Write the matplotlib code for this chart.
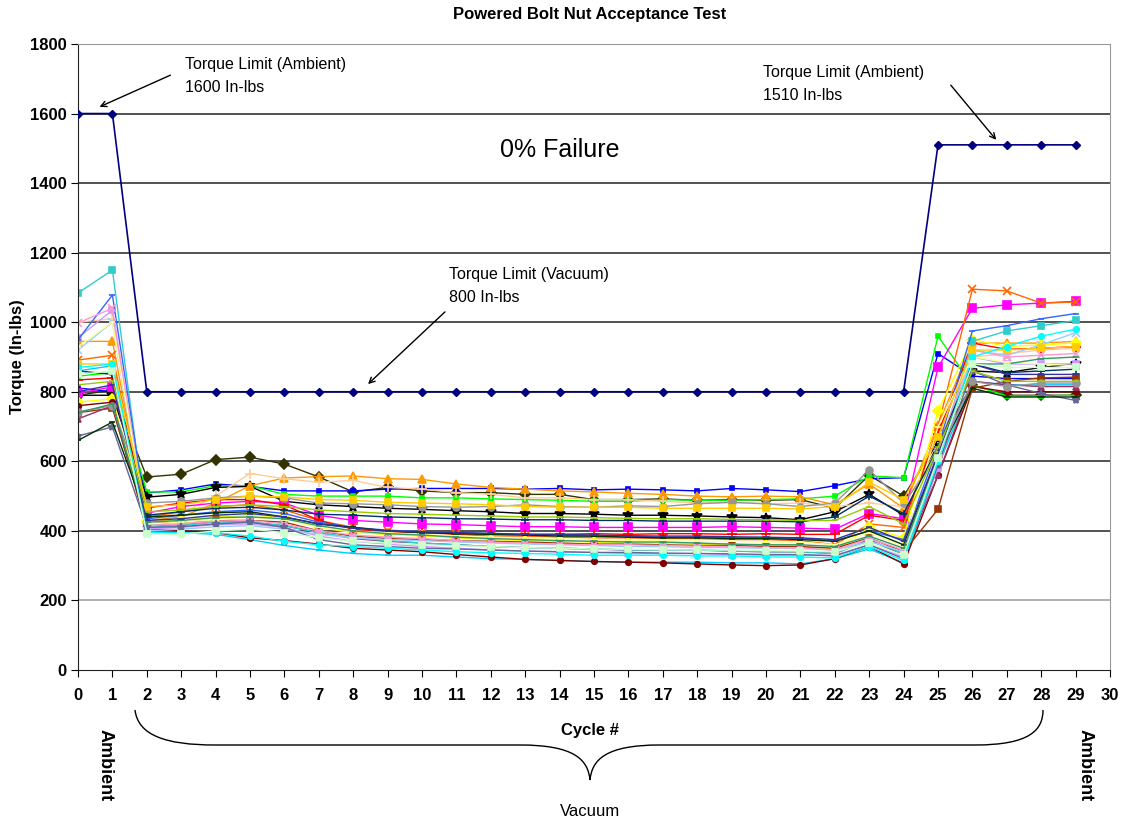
import numpy as np
import matplotlib
matplotlib.use("Agg")
import matplotlib.pyplot as plt
from matplotlib.path import Path
from matplotlib.patches import PathPatch

plt.rcParams['font.family'] = ['Liberation Sans Narrow', 'Liberation Sans', 'DejaVu Sans']

W, H = 1127, 827

cycles = list(range(30))
x_ticks = list(range(31))
y_ticks = [0, 200, 400, 600, 800, 1000, 1200, 1400, 1600, 1800]

# torque limit (ambient 1600 / vacuum 800 / ambient 1510)
limit = [1600, 1600, 800, 800, 800, 800, 800, 800, 800, 800, 800, 800, 800, 800, 800,
         800, 800, 800, 800, 800, 800, 800, 800, 800, 800, 1510, 1510, 1510, 1510, 1510]

# measured torque per nut, cycles 0..29
nut_01 = [790, 805, 555, 563, 605, 612, 592, 555, 512, 525, 515, 510, 510, 505, 505, 490, 490, 492, 488, 490, 488, 490, 465, 560, 500, 655, 820, 790, 790, 790]
nut_02 = [811, 800, 509, 518, 535, 528, 515, 515, 515, 520, 522, 522, 522, 520, 522, 518, 520, 518, 515, 522, 518, 513, 530, 550, 553, 910, 845, 838, 838, 838]
nut_03 = [845, 855, 512, 512, 530, 530, 505, 500, 500, 500, 495, 495, 492, 490, 488, 485, 485, 490, 488, 488, 490, 492, 500, 558, 553, 960, 820, 788, 788, 790]
nut_04 = [790, 790, 497, 505, 525, 528, 485, 475, 470, 465, 462, 458, 455, 450, 450, 448, 445, 445, 443, 440, 438, 432, 455, 505, 445, 650, 860, 855, 870, 880]
nut_05 = [945, 945, 430, 440, 480, 530, 552, 556, 558, 550, 548, 535, 525, 520, 515, 512, 508, 505, 500, 498, 500, 498, 475, 535, 465, 705, 940, 940, 940, 945]
nut_06 = [1000, 1010, 440, 450, 500, 565, 550, 540, 545, 525, 520, 510, 505, 495, 495, 490, 490, 485, 480, 482, 478, 480, 470, 480, 470, 640, 900, 910, 920, 925]
nut_07 = [796, 814, 451, 470, 480, 485, 480, 445, 430, 425, 420, 418, 415, 412, 412, 410, 410, 410, 410, 412, 410, 408, 405, 450, 435, 870, 1040, 1050, 1055, 1060]
nut_08 = [891, 905, 440, 455, 470, 475, 460, 430, 410, 400, 395, 390, 385, 385, 382, 380, 380, 378, 378, 375, 375, 372, 360, 420, 410, 700, 1095, 1090, 1055, 1058]
nut_09 = [834, 840, 466, 480, 490, 490, 475, 430, 405, 395, 395, 392, 390, 390, 390, 392, 390, 392, 392, 390, 392, 390, 390, 445, 430, 680, 940, 922, 925, 930]
nut_10 = [770, 780, 428, 430, 440, 445, 440, 410, 395, 390, 385, 380, 375, 372, 370, 368, 365, 365, 362, 360, 358, 355, 345, 410, 380, 745, 950, 930, 935, 940]
nut_11 = [860, 875, 397, 395, 390, 375, 358, 345, 335, 330, 330, 325, 320, 318, 315, 312, 310, 310, 310, 308, 308, 305, 320, 348, 308, 585, 830, 820, 820, 820]
nut_12 = [760, 770, 405, 400, 395, 380, 372, 362, 350, 345, 340, 332, 325, 318, 315, 312, 310, 308, 305, 302, 300, 302, 320, 355, 305, 560, 815, 800, 800, 800]
nut_13 = [740, 753, 420, 425, 430, 430, 425, 400, 385, 378, 375, 372, 370, 368, 365, 362, 362, 360, 358, 358, 355, 355, 350, 380, 340, 462, 810, 830, 840, 842]
nut_14 = [722, 760, 415, 418, 428, 425, 415, 395, 378, 370, 365, 360, 355, 352, 350, 348, 345, 345, 345, 342, 340, 340, 335, 375, 330, 560, 830, 820, 815, 815]
nut_15 = [955, 1035, 405, 410, 418, 420, 410, 385, 370, 362, 355, 350, 345, 342, 340, 338, 335, 335, 335, 332, 330, 330, 330, 360, 325, 580, 900, 880, 880, 880]
nut_16 = [1084, 1150, 410, 415, 425, 425, 415, 395, 380, 372, 365, 360, 355, 352, 350, 348, 345, 345, 345, 342, 340, 340, 335, 372, 335, 610, 945, 975, 990, 1005]
nut_17 = [950, 1078, 435, 445, 455, 460, 450, 425, 410, 402, 398, 395, 392, 390, 388, 385, 385, 382, 382, 380, 380, 378, 372, 400, 375, 640, 975, 990, 1010, 1025]
nut_18 = [920, 1000, 400, 405, 412, 415, 405, 390, 380, 375, 372, 368, 365, 362, 360, 358, 355, 355, 352, 352, 350, 350, 345, 370, 340, 620, 920, 905, 935, 970]
nut_19 = [998, 1040, 415, 420, 428, 430, 420, 400, 388, 382, 378, 372, 368, 365, 362, 360, 360, 358, 356, 355, 352, 350, 345, 378, 345, 630, 920, 900, 905, 910]
nut_20 = [930, 1000, 420, 425, 432, 440, 432, 410, 400, 395, 390, 385, 382, 380, 378, 375, 372, 372, 370, 370, 368, 368, 360, 395, 355, 700, 900, 885, 880, 875]
nut_21 = [673, 699, 410, 412, 420, 425, 410, 375, 360, 355, 350, 348, 345, 342, 340, 338, 338, 336, 335, 334, 332, 332, 328, 360, 320, 590, 860, 820, 795, 775]
nut_22 = [660, 713, 440, 445, 452, 455, 440, 420, 410, 400, 395, 392, 390, 388, 385, 385, 382, 380, 380, 378, 378, 375, 370, 400, 360, 620, 810, 785, 785, 785]
nut_23 = [742, 760, 480, 485, 495, 500, 495, 480, 478, 475, 470, 468, 470, 475, 470, 468, 472, 470, 478, 482, 478, 470, 480, 575, 480, 615, 830, 815, 825, 825]
nut_24 = [860, 850, 445, 455, 465, 468, 460, 448, 445, 440, 438, 435, 434, 432, 432, 430, 430, 428, 428, 428, 428, 426, 440, 500, 450, 640, 880, 855, 860, 865]
nut_25 = [740, 765, 425, 430, 438, 440, 435, 415, 400, 392, 388, 382, 378, 375, 372, 370, 368, 368, 365, 362, 360, 360, 355, 385, 350, 610, 880, 880, 895, 900]
nut_26 = [820, 830, 455, 460, 470, 475, 470, 460, 455, 450, 448, 445, 443, 440, 440, 438, 436, 435, 435, 433, 432, 430, 430, 470, 420, 640, 860, 830, 830, 830]
nut_27 = [880, 880, 470, 475, 490, 500, 498, 490, 488, 482, 480, 478, 475, 470, 468, 468, 468, 465, 465, 465, 465, 463, 470, 540, 490, 670, 920, 920, 925, 930]
nut_28 = [800, 820, 430, 435, 445, 450, 440, 420, 408, 400, 397, 395, 393, 390, 390, 388, 386, 385, 385, 383, 382, 380, 375, 410, 370, 620, 880, 850, 850, 850]
nut_29 = [870, 880, 395, 393, 395, 385, 370, 360, 355, 350, 345, 340, 337, 335, 333, 330, 330, 330, 328, 328, 325, 325, 322, 355, 315, 600, 900, 930, 960, 980]
nut_30 = [850, 860, 392, 390, 400, 405, 395, 380, 370, 365, 360, 357, 355, 352, 350, 348, 347, 346, 345, 345, 343, 342, 340, 365, 330, 610, 880, 870, 870, 870]

nuts = [nut_01, nut_02, nut_03, nut_04, nut_05, nut_06, nut_07, nut_08, nut_09, nut_10,
        nut_11, nut_12, nut_13, nut_14, nut_15, nut_16, nut_17, nut_18, nut_19, nut_20,
        nut_21, nut_22, nut_23, nut_24, nut_25, nut_26, nut_27, nut_28, nut_29, nut_30]

# excel-ish colours / markers, one per nut
colors = ['#333300', '#0000FF', '#00FF00', '#000000', '#FF9900', '#FFCC99', '#FF00FF', '#FF6600',
          '#FF0000', '#FFFF00', '#00CCFF', '#800000', '#993300', '#993366', '#CC99FF', '#33CCCC',
          '#3366FF', '#99CCFF', '#FF99CC', '#FFFF99', '#666699', '#003300', '#969696', '#003366',
          '#339966', '#99CC00', '#FFCC00', '#333399', '#00FFFF', '#CCFFCC']
markers = ['D', 's', 's', '*', '^', '+', 's', 'x', '+', 'D', '_', 'o', 's', '^', 's', 's',
           '_', 'x', 'x', '_', '*', '_', 'o', '+', '_', '_', 's', '_', 'o', 's']
msizes = [5, 3, 3, 7, 6, 7, 6, 6, 7, 5, 5, 4, 5, 5, 5, 4, 4, 6, 6, 5, 6, 5, 5, 6, 5, 5, 5, 5, 4, 5]

fig = plt.figure(figsize=(W / 100, H / 100), dpi=100)
ax = fig.add_axes([78 / W, 1 - 670 / H, (1110 - 78) / W, (670 - 44) / H])

for v in y_ticks[1:]:
    ax.axhline(v, color='#222222' if v != 200 else '#9a9a9a', lw=1.1, zorder=1)

for i, vals in enumerate(nuts):
    ax.plot(cycles, vals, color=colors[i], marker=markers[i], ms=msizes[i], lw=1.0,
            mew=1.2, zorder=2)

ax.plot(cycles, limit, color='#000080', marker='D', ms=4.5, lw=1.2, zorder=3)

ax.set_xlim(0, 30)
ax.set_ylim(0, 1800)
ax.set_xticks(x_ticks)
ax.set_yticks(y_ticks)
ax.tick_params(axis='x', direction='out', length=5, pad=8, labelsize=12)
ax.tick_params(axis='y', direction='out', length=5, pad=3, labelsize=12)
for lab in ax.get_xticklabels() + ax.get_yticklabels():
    lab.set_fontweight('bold')
ax.spines['top'].set_color('#999999')
ax.spines['right'].set_color('#999999')
ax.spines['left'].set_color('#222222')
ax.spines['bottom'].set_color('#222222')

fig.text(590 / W, 1 - 15 / H, 'Powered Bolt Nut Acceptance Test', ha='center', va='center',
         fontsize=12, fontweight='bold')
fig.text(18 / W, 1 - 357 / H, 'Torque (In-lbs)', ha='center', va='center', rotation=90,
         fontsize=12, fontweight='bold')
fig.text(590 / W, 1 - 730 / H, 'Cycle #', ha='center', va='center', fontsize=12, fontweight='bold')

ann = dict(fontsize=11.5, family=['Liberation Sans', 'DejaVu Sans'], va='center', ha='left')
fig.text(185 / W, 1 - 65 / H, 'Torque Limit (Ambient)', **ann)
fig.text(185 / W, 1 - 87 / H, '1600 In-lbs', **ann)
fig.text(763 / W, 1 - 73 / H, 'Torque Limit (Ambient)', **ann)
fig.text(763 / W, 1 - 95 / H, '1510 In-lbs', **ann)
fig.text(449 / W, 1 - 275 / H, 'Torque Limit (Vacuum)', **ann)
fig.text(449 / W, 1 - 297 / H, '800 In-lbs', **ann)
fig.text(560 / W, 1 - 150 / H, '0% Failure', fontsize=18, family=['Liberation Sans', 'DejaVu Sans'],
         ha='center', va='center')

arrow = dict(arrowstyle='->', color='black', lw=1.0, mutation_scale=10)
for tail, tip in [((173, 74), (97, 108)), ((949, 83), (998, 142)), ((447, 310), (366, 386))]:
    ax.annotate('', xy=(tip[0] / W, 1 - tip[1] / H), xycoords='figure fraction',
                xytext=(tail[0] / W, 1 - tail[1] / H), textcoords='figure fraction',
                arrowprops=arrow)

# curly brace under the vacuum cycles
pts = [(135, 710), (138, 735), (165, 745), (215, 745),
       (520, 745), (575, 745), (588, 760), (590, 780),
       (592, 760), (605, 745), (660, 745),
       (975, 745), (1030, 745), (1043, 730), (1043, 710)]
codes = [Path.MOVETO, Path.CURVE4, Path.CURVE4, Path.CURVE4,
         Path.LINETO, Path.CURVE4, Path.CURVE4, Path.CURVE4,
         Path.CURVE4, Path.CURVE4, Path.CURVE4,
         Path.LINETO, Path.CURVE4, Path.CURVE4, Path.CURVE4]
brace = Path([(px / W, 1 - py / H) for px, py in pts], codes)
fig.add_artist(PathPatch(brace, fill=False, lw=1.0, color='black', transform=fig.transFigure))

side = dict(fontsize=13, fontweight='bold', rotation=-90, ha='center', va='center',
            family=['Liberation Sans', 'DejaVu Sans'])
fig.text(105 / W, 1 - 765 / H, 'Ambient', **side)
fig.text(1085 / W, 1 - 765 / H, 'Ambient', **side)
fig.text(590 / W, 1 - 812 / H, 'Vacuum', fontsize=12, family=['Liberation Sans', 'DejaVu Sans'],
         ha='center', va='center')

fig.savefig('out.png', dpi=100)
